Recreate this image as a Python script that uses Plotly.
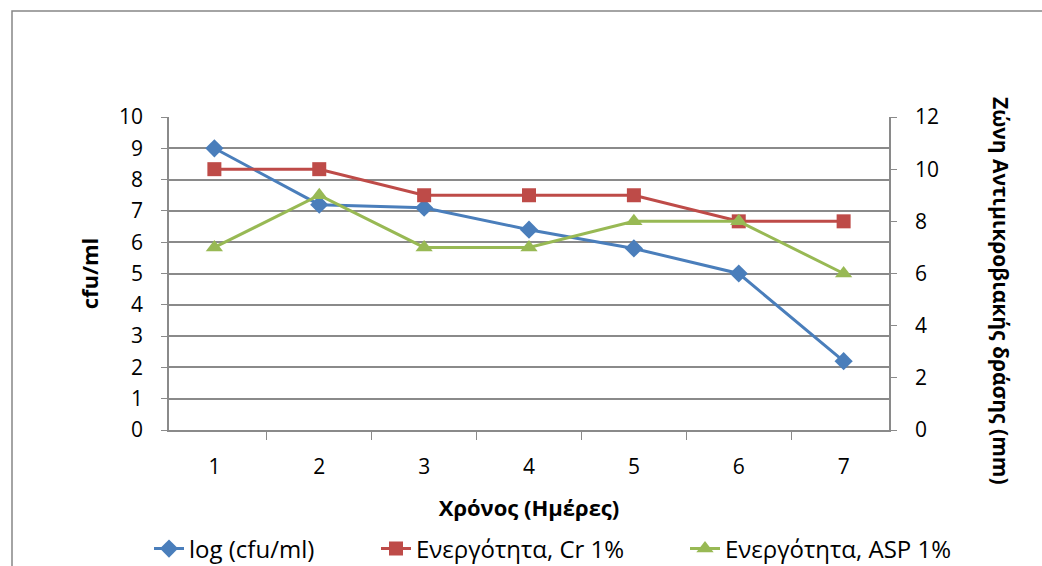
import plotly.graph_objects as go

days = ["1", "2", "3", "4", "5", "6", "7"]
log_cfu = [9.0, 7.2, 7.1, 6.4, 5.8, 5.0, 2.2]
cr_activity = [10, 10, 9, 9, 9, 8, 8]
asp_activity = [7, 9, 7, 7, 8, 8, 6]

FONT = "Open Sans, sans-serif"
GRID = "#8a8a8a"
FS = 21
TFS = 22
LFS = 24

fig = go.Figure()
fig.add_trace(go.Scatter(x=days, y=log_cfu, name="log (cfu/ml)", mode="lines+markers",
                         legend="legend",
                         line=dict(color="#4A7EBB", width=3),
                         marker=dict(symbol="diamond", size=14, color="#4A7EBB")))
fig.add_trace(go.Scatter(x=days, y=cr_activity, name="Ενεργότητα, Cr 1%", mode="lines+markers",
                         yaxis="y2", legend="legend2",
                         line=dict(color="#BE4B48", width=3),
                         marker=dict(symbol="square", size=14, color="#BE4B48")))
fig.add_trace(go.Scatter(x=days, y=asp_activity, name="Ενεργότητα, ASP 1%", mode="lines+markers",
                         yaxis="y2", legend="legend3",
                         line=dict(color="#98B954", width=3),
                         marker=dict(symbol="triangle-up", size=15, color="#98B954")))


def leg(px):
    return dict(orientation="h", x=px / 1042, xanchor="left", xref="container",
                y=(566 - 549) / 566, yanchor="middle", yref="container",
                font=dict(size=LFS), bgcolor="rgba(0,0,0,0)")


fig.update_layout(
    width=1042, height=566,
    margin=dict(l=169, r=153, t=117, b=136, autoexpand=False),
    paper_bgcolor="white", plot_bgcolor="white",
    font=dict(family=FONT, size=FS, color="black"),
    showlegend=True,
    legend=leg(191 - 42),
    legend2=leg(418 - 42),
    legend3=leg(727 - 42),
    xaxis=dict(type="category", tickson="boundaries", ticks="outside", ticklen=8,
               tickcolor=GRID, showline=True, linecolor=GRID, linewidth=1.5,
               showgrid=False, automargin=False,
               title=dict(text="<b>Χρόνος (Ημέρες)</b>", standoff=22, font=dict(size=TFS)),
               ticklabelstandoff=17),
    yaxis=dict(range=[0, 10], dtick=1, showgrid=True, gridcolor=GRID, gridwidth=1.5,
               showline=True, linecolor=GRID, linewidth=1.5, ticks="outside", ticklen=6,
               tickcolor=GRID, zeroline=False, automargin=False, ticklabelstandoff=14,
               title=dict(text="<b>cfu/ml</b>", standoff=14, font=dict(size=TFS))),
    yaxis2=dict(range=[0, 12], dtick=2, overlaying="y", side="right", showgrid=False,
                showline=True, linecolor=GRID, linewidth=1.5, ticks="outside", ticklen=6,
                tickcolor=GRID, zeroline=False, ticklabelstandoff=14, automargin=False),
)

fig.add_annotation(text="<b>Ζώνη Αντιμικροβιακής δράσης (mm)</b>", textangle=90,
                   xref="paper", yref="paper", x=(1001 - 169) / 720, y=(430 - 291) / 313,
                   showarrow=False, font=dict(size=TFS - 1), xanchor="center", yanchor="middle")

# outer chart frame
fig.add_shape(type="rect", xref="paper", yref="paper",
              x0=(12 - 169) / 720, x1=1.5, y0=-0.8, y1=(430 - 11) / 313,
              line=dict(color="#868686", width=1.5), fillcolor="rgba(0,0,0,0)", layer="below")

fig.write_html("out.html")
